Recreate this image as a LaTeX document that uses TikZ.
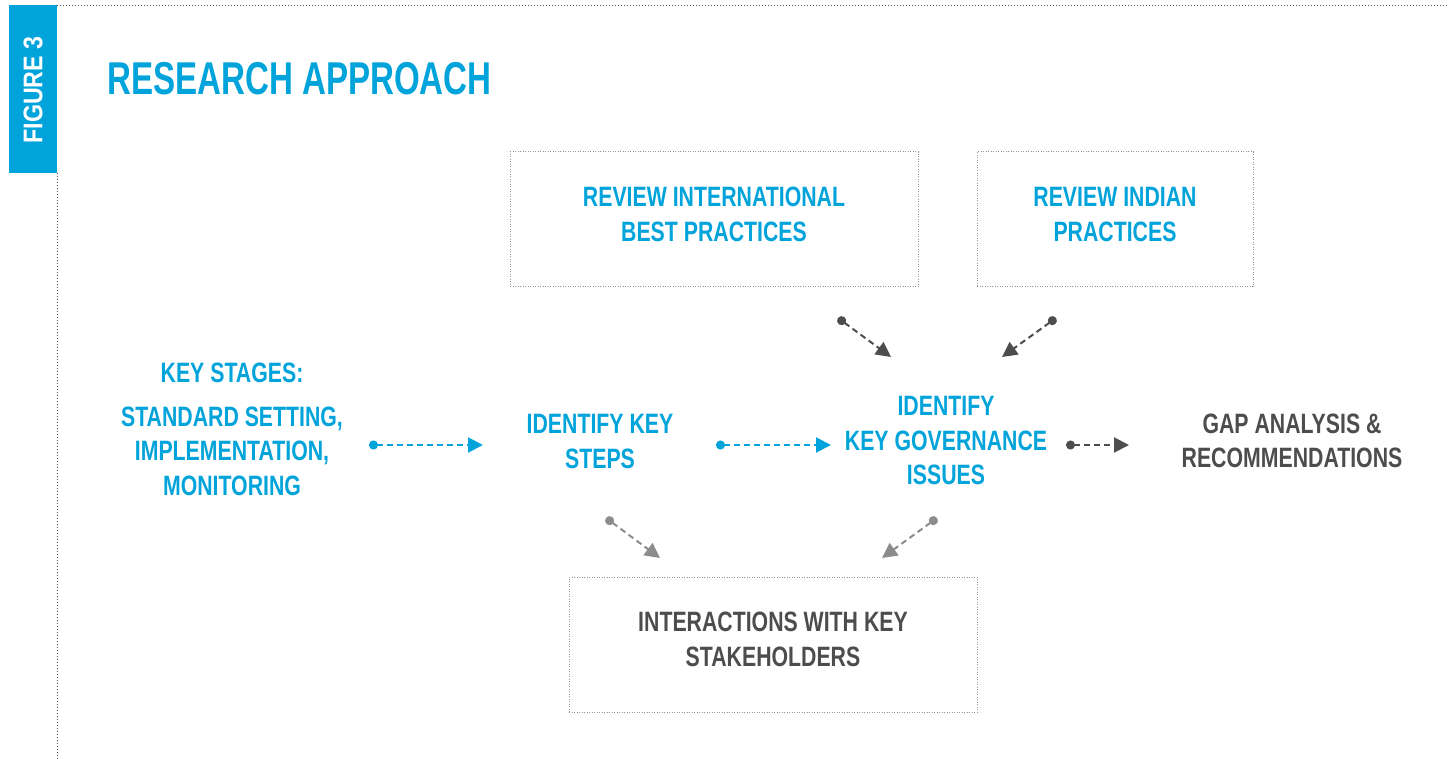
\documentclass[tikz,border=0pt]{standalone}
\usepackage{fontspec}
\setmainfont{Liberation Sans}[FakeStretch=0.76]
\newfontfamily\titlefont{Liberation Sans}[FakeStretch=0.72]
\newfontfamily\tabfont{Liberation Sans}[FakeStretch=0.86]
\usetikzlibrary{arrows.meta}

\definecolor{figblue}{RGB}{0,163,218}
\definecolor{darkgrey}{RGB}{77,77,77}
\definecolor{midgrey}{RGB}{140,140,140}
\definecolor{boxgrey}{RGB}{150,150,150}

\tikzset{
	steptext/.style={font=\bfseries\fontsize{28}{34.5}\selectfont, align=center, inner sep=0pt},
	bluetext/.style={steptext, text=figblue},
	greytext/.style={steptext, text=darkgrey},
	dotbox/.style={draw=boxgrey, line width=1pt, dash pattern=on 1pt off 1.5pt,
		minimum width=408pt, minimum height=135pt, inner sep=0pt},
	flow/.style={line width=2pt, dash pattern=on 6pt off 4pt,
		{Circle[length=9pt,width=9pt]}-{Triangle[length=15pt,width=15pt]}},
	flowblue/.style={flow, figblue},
	flowdark/.style={flow, darkgrey},
	flowlight/.style={flow, midgrey}
}

\begin{document}
\begin{tikzpicture}[x=1pt,y=-1pt]
	\useasboundingbox (0,0) rectangle (1449,759);

	% side tab and frame
	\fill[figblue] (9,5) rectangle (57,173);
	\node[rotate=90, text=white, font=\tabfont\bfseries\fontsize{27}{30}\selectfont, inner sep=0pt] (tab) at (33,90) {FIGURE 3};
	\draw[darkgrey, line width=1pt, dash pattern=on 1pt off 2pt] (57,6) -- (1449,6);
	\draw[darkgrey, line width=1pt, dash pattern=on 1pt off 2pt] (57,173) -- (57,759);

	\node[anchor=west, text=figblue, font=\titlefont\bfseries\fontsize{46}{50}\selectfont, inner sep=0pt] (title) at (107,79) {RESEARCH APPROACH};

	% boxes
	\node[dotbox, minimum width=408pt] (intl) at (714,219.5) {};
	\node[bluetext] at ([yshift=5pt]intl.center) {REVIEW INTERNATIONAL\\BEST PRACTICES};
	\node[dotbox, minimum width=276pt] (indian) at (1115,219.5) {};
	\node[bluetext] at ([yshift=5pt]indian.center) {REVIEW INDIAN\\PRACTICES};
	\node[dotbox, minimum width=408pt] (stake) at (773,644.5) {};
	\node[greytext] at ([yshift=5pt]stake.center) {INTERACTIONS WITH KEY\\STAKEHOLDERS};

	% main row
	\node[bluetext] (keyhead) at (232,373) {KEY STAGES:};
	\node[bluetext] (stages) at (232,451) {STANDARD SETTING,\\IMPLEMENTATION,\\MONITORING};
	\node[bluetext] (steps) at (600,441.5) {IDENTIFY KEY\\STEPS};
	\node[bluetext] (issues) at (946,441) {IDENTIFY\\KEY GOVERNANCE\\ISSUES};
	\node[greytext] (gap) at (1292,441) {GAP ANALYSIS \&\\RECOMMENDATIONS};

	% connector ends
	\coordinate (a1) at (369,445);  \coordinate (b1) at (483,445);
	\coordinate (a2) at (716,445);  \coordinate (b2) at (831,445);
	\coordinate (a3) at (1066,445); \coordinate (b3) at (1129,445);
	\coordinate (a4) at (838,318);  \coordinate (b4) at (891,357);
	\coordinate (a5) at (1056,318); \coordinate (b5) at (1002,357);
	\coordinate (a6) at (606,518);  \coordinate (b6) at (660,558);
	\coordinate (a7) at (937,518);  \coordinate (b7) at (882,558);

	\draw[flowblue] (a1) -- (b1);
	\draw[flowblue] (a2) -- (b2);
	\draw[flowdark] (a3) -- (b3);
	\draw[flowdark] (a4) -- (b4);
	\draw[flowdark] (a5) -- (b5);
	\draw[flowlight] (a6) -- (b6);
	\draw[flowlight] (a7) -- (b7);
\end{tikzpicture}
\end{document}
